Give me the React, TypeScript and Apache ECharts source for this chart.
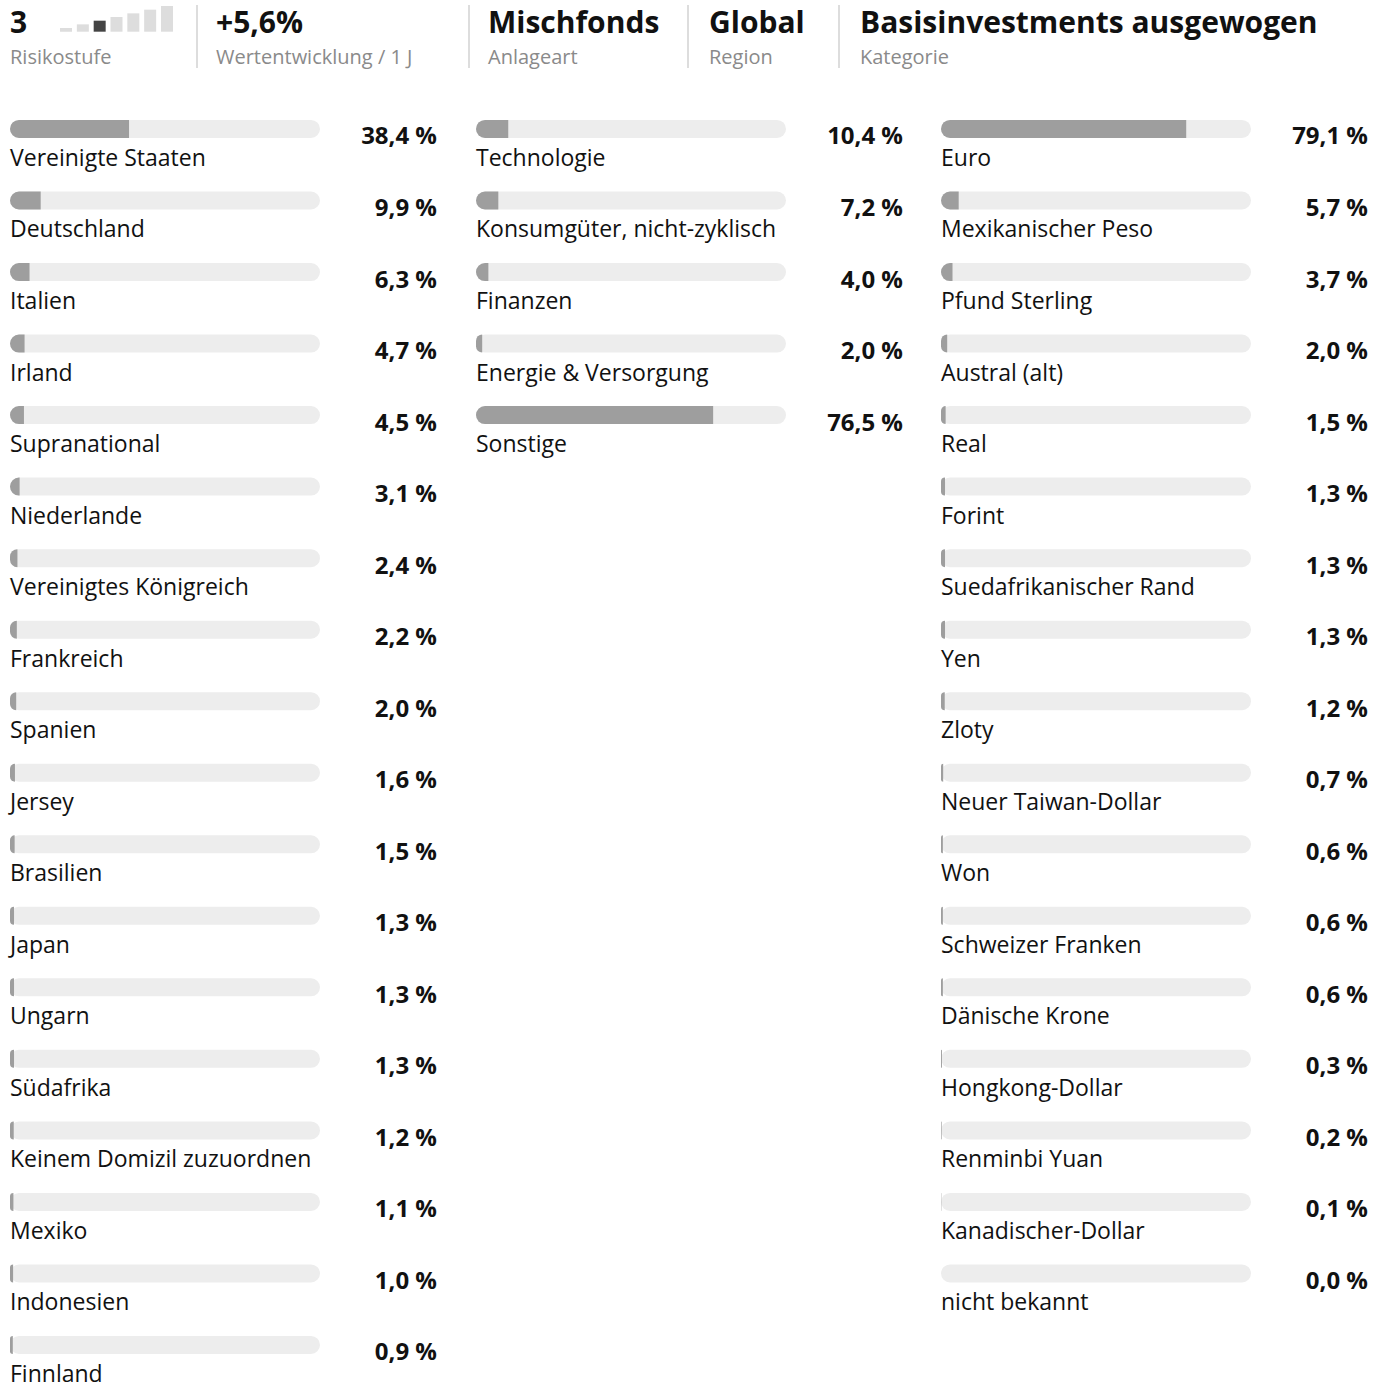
import React, { useEffect, useRef } from "react";
import * as echarts from "echarts";

const countryNames = [
  "Vereinigte Staaten", "Deutschland", "Italien", "Irland", "Supranational", "Niederlande",
  "Vereinigtes Königreich", "Frankreich", "Spanien", "Jersey", "Brasilien", "Japan", "Ungarn",
  "Südafrika", "Keinem Domizil zuzuordnen", "Mexiko", "Indonesien", "Finnland",
];
const countryValues = [38.4, 9.9, 6.3, 4.7, 4.5, 3.1, 2.4, 2.2, 2.0, 1.6, 1.5, 1.3, 1.3, 1.3, 1.2, 1.1, 1.0, 0.9];

const sectorNames = ["Technologie", "Konsumgüter, nicht-zyklisch", "Finanzen", "Energie & Versorgung", "Sonstige"];
const sectorValues = [10.4, 7.2, 4.0, 2.0, 76.5];

const currencyNames = [
  "Euro", "Mexikanischer Peso", "Pfund Sterling", "Austral (alt)", "Real", "Forint",
  "Suedafrikanischer Rand", "Yen", "Zloty", "Neuer Taiwan-Dollar", "Won", "Schweizer Franken",
  "Dänische Krone", "Hongkong-Dollar", "Renminbi Yuan", "Kanadischer-Dollar", "nicht bekannt",
];
const currencyValues = [79.1, 5.7, 3.7, 2.0, 1.5, 1.3, 1.3, 1.3, 1.2, 0.7, 0.6, 0.6, 0.6, 0.3, 0.2, 0.1, 0.0];

const riskLevels = [1, 2, 3, 4, 5, 6, 7];
const riskValue = 3;

const headerItems = [
  { title: "+5,6%", sub: "Wertentwicklung / 1 J" },
  { title: "Mischfonds", sub: "Anlageart" },
  { title: "Global", sub: "Region" },
  { title: "Basisinvestments ausgewogen", sub: "Kategorie" },
];

const FONT = "'Open Sans', 'Noto Sans', sans-serif";

export default function App() {
  const ref = useRef<HTMLDivElement>(null);
  useEffect(() => {
    if (!ref.current) return;
    const chart = echarts.init(ref.current, undefined, { renderer: "svg" });
    const pitch = 71.53;
    const top = 93.2;
    const columns = [
      { left: 10, names: countryNames, values: countryValues },
      { left: 476, names: sectorNames, values: sectorValues },
      { left: 941, names: currencyNames, values: currencyValues },
    ];
    const grids: any[] = [];
    const xAxes: any[] = [];
    const yAxes: any[] = [];
    const series: any[] = [];
    columns.forEach((c, i) => {
      grids.push({ left: c.left, top, width: 310, height: c.names.length * pitch });
      xAxes.push({ gridIndex: i, type: "value", min: 0, max: 100, show: false });
      yAxes.push({ gridIndex: i, type: "category", data: c.names, inverse: true, show: false });
      series.push({
        type: "bar",
        xAxisIndex: i,
        yAxisIndex: i,
        barWidth: 18,
        barGap: "-100%",
        silent: true,
        data: c.names.map(() => 100),
        itemStyle: { color: "#ededed", borderRadius: 9 },
        label: {
          show: true,
          position: ["100%", "50%"],
          offset: [117, 6],
          align: "right",
          verticalAlign: "middle",
          fontFamily: FONT,
          fontWeight: "bold",
          fontSize: 24,
          color: "#111",
          formatter: (p: any) => c.values[p.dataIndex].toFixed(1).replace(".", ",") + " %",
        },
      });
      series.push({
        type: "bar",
        xAxisIndex: i,
        yAxisIndex: i,
        barWidth: 18,
        barGap: "-100%",
        silent: true,
        data: c.values,
        itemStyle: { color: "#9e9e9e", borderRadius: [9, 0, 0, 9] },
        label: {
          show: true,
          position: [0, 37],
          align: "left",
          verticalAlign: "middle",
          fontFamily: FONT,
          fontSize: 23,
          color: "#111",
          formatter: (p: any) => c.names[p.dataIndex],
        },
      });
    });
    // risk indicator
    grids.push({ left: 57.6, top: 6, width: 117.8, height: 29 });
    xAxes.push({ gridIndex: 3, type: "category", data: riskLevels.map(String), show: false });
    yAxes.push({ gridIndex: 3, type: "value", min: -0.9, max: 7, show: false });
    series.push({
      type: "bar",
      xAxisIndex: 3,
      yAxisIndex: 3,
      barWidth: 12,
      silent: true,
      data: riskLevels.map((v) => ({
        value: v,
        itemStyle: { color: v === riskValue ? "#444444" : "#dddddd" },
      })),
    });

    const headerX = [216, 488, 709, 860];
    const sepX = [197, 469, 688, 839];
    const titleStyle = (text: string, x: number) => ({
      type: "text",
      x,
      y: 21,
      style: {
        text,
        fontFamily: FONT,
        fontWeight: "bold",
        fontSize: 30,
        fill: "#111",
        verticalAlign: "middle",
        align: "left",
      },
    });
    const subStyle = (text: string, x: number) => ({
      type: "text",
      x,
      y: 56,
      style: {
        text,
        fontFamily: FONT,
        fontSize: 20,
        fill: "#8a8a8a",
        verticalAlign: "middle",
        align: "left",
      },
    });
    const graphic: any[] = [titleStyle(String(riskValue), 10), subStyle("Risikostufe", 10)];
    headerItems.forEach((h, i) => {
      graphic.push(titleStyle(h.title, headerX[i]));
      graphic.push(subStyle(h.sub, headerX[i]));
      graphic.push({
        type: "rect",
        shape: { x: sepX[i] - 1, y: 5, width: 2, height: 63 },
        style: { fill: "#dddddd" },
      });
    });

    chart.setOption({
      animation: false,
      backgroundColor: "#ffffff",
      textStyle: { fontFamily: FONT },
      grid: grids,
      xAxis: xAxes,
      yAxis: yAxes,
      series,
      graphic,
    });
    return () => chart.dispose();
  }, []);
  return (
    <div
      ref={ref}
      style={{ position: "fixed", left: 0, top: 0, width: 1387, height: 1382, background: "#fff" }}
    />
  );
}
